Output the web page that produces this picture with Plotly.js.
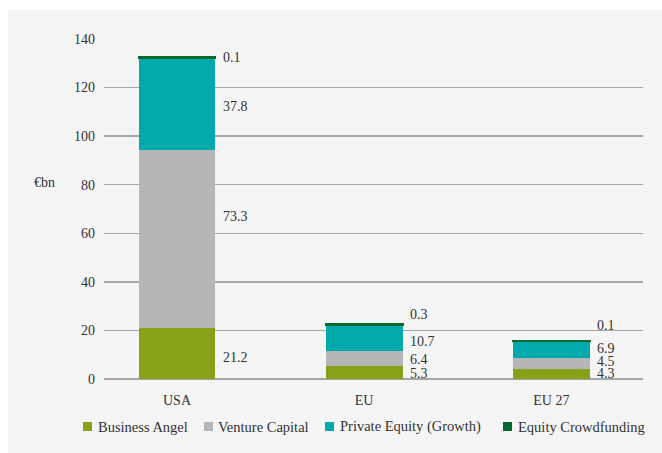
<!DOCTYPE html>
<html>
<head>
<meta charset="utf-8">
<script src="https://cdn.plot.ly/plotly-3.0.1.min.js"></script>
<style>
  body { margin: 0; padding: 0; background: #ffffff; }
  #chart { width: 662px; height: 453px; }
</style>
</head>
<body>
<div id="chart"></div>
<script>
var config = { responsive: false, displayModeBar: false, staticPlot: true }

// Data
var regions = ['USA', 'EU', 'EU 27'];
var seriesNames = ['Business Angel', 'Venture Capital', 'Private Equity (Growth)', 'Equity Crowdfunding'];
var businessAngel = [21.2, 5.3, 4.3];
var ventureCapital = [73.3, 6.4, 4.5];
var privateEquity = [37.8, 10.7, 6.9];
var crowdfunding = [0.1, 0.3, 0.1];

// where the value labels sit (in €bn)
var labelYBA = [9.0, 2.2, 2.1];
var labelYVC = [66.8, 8.1, 7.2];
var labelYPE = [112.1, 15.4, 12.6];
var labelYEC = [132.4, 26.4, 21.9];

var colors = ['#87a118', '#b5b6b8', '#00a9ac', '#006a2f'];
var allValues = [businessAngel, ventureCapital, privateEquity, crowdfunding];
var allLabelY = [labelYBA, labelYVC, labelYPE, labelYEC];

// plot box in pixels (used to place things outside the axes)
var mL = 104, mR = 19, mT = 39, mB = 74;
var plotW = 662 - mL - mR, plotH = 453 - mT - mB;
function px2x(px) { return (px - mL) / plotW; }
function px2y(py) { return 1 - (py - mT) / plotH; }

var textFont = { family: 'Liberation Serif, serif', size: 14, color: '#333333' };

var data = [];
allValues.forEach(function (vals, i) {
    data.push({
        type: 'bar',
        x: regions,
        y: vals,
        name: seriesNames[i],
        // the tiny crowdfunding slices get an outline so they stay visible
        marker: { color: colors[i], line: { width: i === 3 ? 2 : 0, color: colors[i] } },
        width: 0.41,
        hoverinfo: 'skip'
    });
});

// value labels to the right of each bar
var annotations = [];
allValues.forEach(function (vals, i) {
    vals.forEach(function (v, j) {
        annotations.push({
            x: j + 0.24,
            y: allLabelY[i][j],
            xref: 'x',
            yref: 'y',
            text: v.toFixed(1),
            showarrow: false,
            xanchor: 'left',
            yanchor: 'middle',
            borderpad: 0,
            font: textFont
        });
    });
});

// unit label
annotations.push({
    x: px2x(45),
    y: px2y(182),
    xref: 'paper',
    yref: 'paper',
    xanchor: 'center',
    yanchor: 'middle',
    text: '€bn',
    showarrow: false,
    font: textFont
});

// background panel
var shapes = [{
    type: 'rect',
    xref: 'paper',
    yref: 'paper',
    x0: px2x(8),
    x1: px2x(670),
    y0: px2y(460),
    y1: px2y(10),
    fillcolor: '#f5f5f5',
    line: { width: 0 },
    layer: 'below'
}];

// legend drawn by hand so the spacing matches: square + name
var legendSquareX = [83, 204, 325, 503];
var legendTextX = [97, 217, 339, 517];
seriesNames.forEach(function (name, i) {
    shapes.push({
        type: 'rect',
        xref: 'paper',
        yref: 'paper',
        x0: px2x(legendSquareX[i]),
        x1: px2x(legendSquareX[i] + 9),
        y0: px2y(431),
        y1: px2y(422),
        fillcolor: colors[i],
        line: { width: 0 }
    });
    annotations.push({
        x: px2x(legendTextX[i]),
        y: px2y(426.5),
        xref: 'paper',
        yref: 'paper',
        xanchor: 'left',
        yanchor: 'middle',
        text: name,
        showarrow: false,
        borderpad: 0,
        font: { family: 'Liberation Serif, serif', size: 14.5, color: '#333333' }
    });
});

var layout = {
    width: 662,
    height: 453,
    barmode: 'stack',
    paper_bgcolor: '#ffffff',
    plot_bgcolor: 'rgba(0,0,0,0)',
    margin: { l: mL, r: mR, t: mT, b: mB, pad: 0 },
    font: textFont,
    showlegend: false,
    xaxis: {
        type: 'category',
        range: [-0.39, 2.49],
        showgrid: false,
        zeroline: false,
        showline: false,
        ticks: '',
        ticklabelstandoff: 11,
        tickfont: textFont
    },
    yaxis: {
        range: [0, 140],
        dtick: 20,
        showgrid: true,
        gridcolor: '#a6a6a6',
        gridwidth: 1.3,
        zeroline: true,
        zerolinecolor: '#a6a6a6',
        zerolinewidth: 1.3,
        showline: false,
        ticks: '',
        ticklabelstandoff: 8,
        tickfont: textFont
    },
    shapes: shapes,
    annotations: annotations
};

Plotly.newPlot('chart', data, layout, config);
</script>
</body>
</html>
